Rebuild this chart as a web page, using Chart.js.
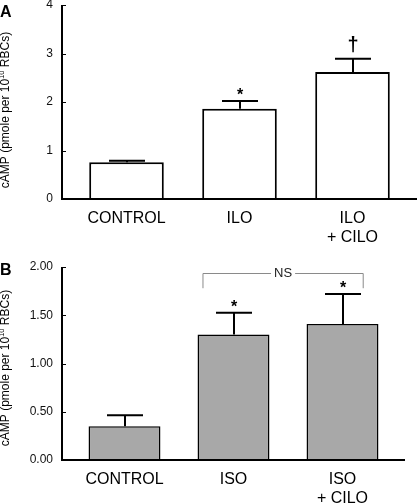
<!DOCTYPE html>
<html>
<head>
<meta charset="utf-8">
<script src="https://cdn.jsdelivr.net/npm/chart.js@4"></script>
<style>
body { margin: 0; background: #fff; width: 420px; height: 504px; position: relative; overflow: hidden; }
canvas { position: absolute; left: 0; }
#chartA { top: 0; }
#chartB { top: 250px; }
</style>
</head>
<body>
<canvas id="chartA" width="420" height="250"></canvas>
<canvas id="chartB" width="420" height="254"></canvas>
<script>
// panneau A : ilomastat
const categoriesA = ['CONTROL', 'ILO', ['ILO', '+ CILO']];
const moyennesA = [0.76, 1.86, 2.62];
const erreursA = [0.03, 0.16, 0.27];
const marquesA = ['', '*', '†'];

// panneau B : isoproterenol
const categoriesB = ['CONTROL', 'ISO', ['ISO', '+ CILO']];
const moyennesB = [0.35, 1.30, 1.41];
const erreursB = [0.115, 0.225, 0.31];
const marquesB = ['', '*', '*'];
const crochetB = { de: 0.72, a: 2.19, haut: 1.94, bas: 1.78, texte: 'NS' };

const police = '"Liberation Sans", Arial, sans-serif';

const titreAxe = (ctx, cx, cy) => {
    const grand = '12px ' + police;
    const petit = '7.5px ' + police;
    const morceaux = [['cAMP (pmole per 10', grand, 0], ['10', petit, -4.5], [' RBCs)', grand, 0]];
    ctx.save();
    ctx.translate(cx, cy);
    ctx.rotate(-Math.PI / 2);
    let w = 0;
    morceaux.forEach(m => { ctx.font = m[1]; w += ctx.measureText(m[0]).width; });
    let x = -w / 2;
    ctx.fillStyle = '#000';
    ctx.textBaseline = 'alphabetic';
    morceaux.forEach(m => {
        ctx.font = m[1];
        ctx.fillText(m[0], x, m[2]);
        x += ctx.measureText(m[0]).width;
    });
    ctx.restore();
}

const decor = (cfg) => ({
    id: 'decor',
    afterDatasetsDraw(chart) {
        const ctx = chart.ctx;
        const xs = chart.scales.x, ys = chart.scales.y;
        const area = chart.chartArea;
        ctx.save();
        ctx.strokeStyle = '#000';
        // axes
        ctx.lineWidth = 2;
        ctx.beginPath();
        ctx.moveTo(62, area.top);
        ctx.lineTo(62, area.bottom);
        ctx.lineTo(cfg.finAxe, area.bottom);
        ctx.stroke();
        // petites graduations vers l'intérieur
        ctx.lineWidth = 1;
        ys.ticks.forEach(t => {
            const y = Math.round(ys.getPixelForValue(t.value)) + 0.5;
            ctx.beginPath();
            ctx.moveTo(62, y);
            ctx.lineTo(66, y);
            ctx.stroke();
        });
        // barres d'erreur
        ctx.lineWidth = 2;
        cfg.moyennes.forEach((m, i) => {
            const x = Math.round(xs.getPixelForValue(i));
            const yb = ys.getPixelForValue(m);
            const yh = ys.getPixelForValue(m + cfg.erreurs[i]);
            ctx.beginPath();
            ctx.moveTo(x, yb);
            ctx.lineTo(x, yh);
            ctx.moveTo(x - 18, yh);
            ctx.lineTo(x + 18, yh);
            ctx.stroke();
            const marque = cfg.marques[i];
            if (marque) {
                ctx.fillStyle = '#000';
                ctx.textAlign = 'center';
                ctx.textBaseline = 'alphabetic';
                if (marque === '*') {
                    ctx.font = 'bold 16px ' + police;
                    ctx.fillText(marque, x, yh - 1);
                } else {
                    ctx.font = 'bold 20px ' + police;
                    ctx.fillText(marque, x, yh - 8);
                }
            }
        });
        // crochet NS
        if (cfg.crochet) {
            const c = cfg.crochet;
            const pas = xs.getPixelForValue(1) - xs.getPixelForValue(0);
            const x1 = xs.getPixelForValue(0) + c.de * pas;
            const x2 = xs.getPixelForValue(0) + c.a * pas;
            const yh = Math.round(ys.getPixelForValue(c.haut)) + 0.5;
            const yb = ys.getPixelForValue(c.bas);
            const xm = (x1 + x2) / 2;
            ctx.font = '13px ' + police;
            const lt = ctx.measureText(c.texte).width;
            ctx.strokeStyle = '#8a8a8a';
            ctx.lineWidth = 1;
            ctx.beginPath();
            ctx.moveTo(x1, yb);
            ctx.lineTo(x1, yh);
            ctx.lineTo(xm - lt / 2 - 3, yh);
            ctx.moveTo(xm + lt / 2 + 3, yh);
            ctx.lineTo(x2, yh);
            ctx.lineTo(x2, yb);
            ctx.stroke();
            ctx.fillStyle = '#222';
            ctx.textAlign = 'center';
            ctx.textBaseline = 'middle';
            ctx.fillText(c.texte, xm, yh);
        }
        // lettre du panneau
        ctx.fillStyle = '#000';
        ctx.textAlign = 'left';
        ctx.textBaseline = 'alphabetic';
        ctx.font = 'bold 16px ' + police;
        ctx.fillText(cfg.lettre, 0, cfg.yLettre);
        titreAxe(ctx, 8.5, cfg.yTitre);
        ctx.restore();
    }
});

const faireGraphique = (id, cfg) => new Chart(document.getElementById(id), {
    type: 'bar',
    data: {
        labels: cfg.categories,
        datasets: [{
            data: cfg.moyennes,
            backgroundColor: cfg.fond,
            borderColor: '#000',
            borderWidth: cfg.bord,
            barPercentage: 0.66,
            categoryPercentage: 1
        }]
    },
    options: {
        responsive: false,
        animation: false,
        layout: { padding: { top: cfg.haut, right: cfg.droite, left: 0, bottom: 0 } },
        plugins: { legend: { display: false }, tooltip: { enabled: false } },
        scales: {
            x: {
                grid: { display: false, drawTicks: false },
                border: { display: false },
                ticks: { color: '#000', font: { family: police, size: 16 }, padding: 10, maxRotation: 0 },
                afterFit: s => { s.height = cfg.hautX; }
            },
            y: {
                min: 0,
                max: cfg.max,
                grid: { display: false, drawTicks: false },
                border: { display: false },
                ticks: { stepSize: cfg.pas, color: '#111', font: { family: police, size: 12 }, padding: 17, callback: cfg.format },
                afterFit: s => {
                    s.width = 70;
                    s.paddingTop = 0;
                    s.paddingBottom = 0;
                }
            }
        }
    },
    plugins: [decor(cfg)]
});

faireGraphique('chartA', {
    categories: categoriesA, moyennes: moyennesA, erreurs: erreursA, marques: marquesA,
    fond: '#ffffff', bord: 2, haut: 5, droite: 11, hautX: 51, max: 4, pas: 1,
    format: v => String(v), finAxe: 417, lettre: 'A', yLettre: 17, yTitre: 110
});

faireGraphique('chartB', {
    categories: categoriesB, moyennes: moyennesB, erreurs: erreursB, marques: marquesB, crochet: crochetB,
    fond: '#a8a8a8', bord: 1.5, haut: 17, droite: 23, hautX: 44, max: 2, pas: 0.5,
    format: v => v.toFixed(2), finAxe: 405, lettre: 'B', yLettre: 25, yTitre: 118
});
</script>
</body>
</html>
